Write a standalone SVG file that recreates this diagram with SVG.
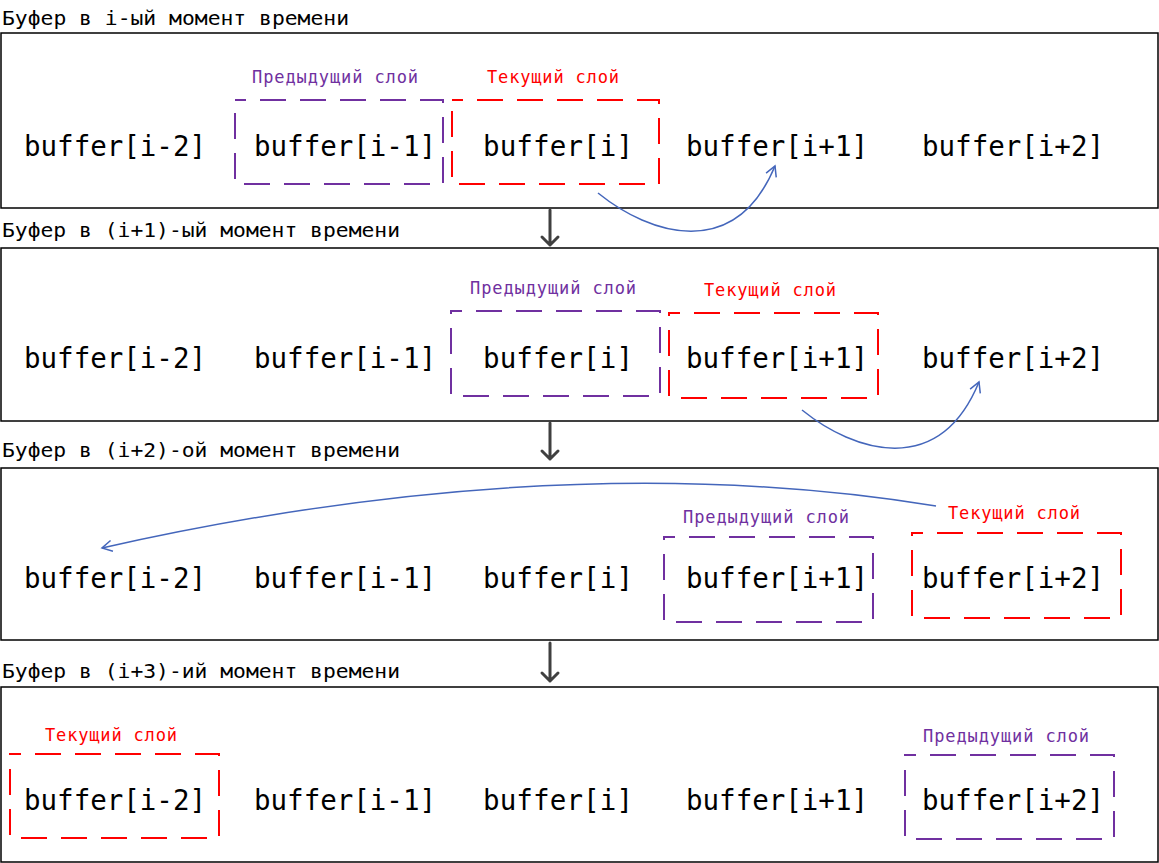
<svg xmlns="http://www.w3.org/2000/svg" width="1159" height="863" viewBox="0 0 1159 863">
<style>
.frame{fill:none;stroke:#000;stroke-width:1.5}
.title{font-family:"DejaVu Sans Mono","Liberation Mono",monospace;font-size:20px;fill:#000}
.buf{font-family:"DejaVu Sans Mono","Liberation Mono",monospace;font-size:27.5px;fill:#000}
.lab{font-family:"DejaVu Sans Mono","Liberation Mono",monospace;font-size:17px}
.prev{fill:none;stroke:#7030A0;stroke-width:2;stroke-dasharray:26 14;stroke-dashoffset:15}
.cur{fill:none;stroke:#FF0000;stroke-width:2;stroke-dasharray:26 14;stroke-dashoffset:15}
.prevt{fill:#7030A0}
.curt{fill:#FF0000}
.flow{fill:none;stroke:#4466BB;stroke-width:1.5;marker-end:url(#open)}
.down{fill:none;stroke:#404040;stroke-width:3;stroke-linecap:round;stroke-linejoin:round}
</style>
<defs>
<marker id="open" viewBox="-12 -7 14 14" refX="0" refY="0" markerWidth="14" markerHeight="14" markerUnits="userSpaceOnUse" orient="auto">
<path d="M-10,-5.5 L0,0 L-10,5.5" fill="none" stroke="#4466BB" stroke-width="1.5"/>
</marker>
</defs>
<rect width="1159" height="863" fill="#fff"/>

<g id="panel1">
<text class="title" x="2" y="25" textLength="347" lengthAdjust="spacingAndGlyphs">Буфер в i-ый момент времени</text>
<rect class="frame" x="1" y="33" width="1157" height="175"/>
<g id="p1-prev"><rect class="prev" x="235" y="100" width="208" height="84"/><text class="lab prevt" x="252" y="83" textLength="166" lengthAdjust="spacing">Предыдущий слой</text></g>
<g id="p1-cur"><rect class="cur" x="452" y="100" width="207" height="84"/><text class="lab curt" x="487" y="83" textLength="132" lengthAdjust="spacing">Текущий слой</text></g>
<g id="p1-n0"><text class="buf" x="24" y="156" textLength="182" lengthAdjust="spacing">buffer[i-2]</text></g>
<g id="p1-n1"><text class="buf" x="254" y="156" textLength="182" lengthAdjust="spacing">buffer[i-1]</text></g>
<g id="p1-n2"><text class="buf" x="483" y="156" textLength="150" lengthAdjust="spacing">buffer[i]</text></g>
<g id="p1-n3"><text class="buf" x="686" y="156" textLength="182" lengthAdjust="spacing">buffer[i+1]</text></g>
<g id="p1-n4"><text class="buf" x="922" y="156" textLength="182" lengthAdjust="spacing">buffer[i+2]</text></g>
</g>

<g id="panel2">
<text class="title" x="2" y="237" textLength="398" lengthAdjust="spacingAndGlyphs">Буфер в (i+1)-ый момент времени</text>
<rect class="frame" x="1" y="248" width="1157" height="173"/>
<g id="p2-prev"><rect class="prev" x="451" y="311" width="209" height="85"/><text class="lab prevt" x="470" y="294" textLength="166" lengthAdjust="spacing">Предыдущий слой</text></g>
<g id="p2-cur"><rect class="cur" x="669" y="313" width="209" height="85"/><text class="lab curt" x="704" y="296" textLength="132" lengthAdjust="spacing">Текущий слой</text></g>
<g id="p2-n0"><text class="buf" x="24" y="368" textLength="182" lengthAdjust="spacing">buffer[i-2]</text></g>
<g id="p2-n1"><text class="buf" x="254" y="368" textLength="182" lengthAdjust="spacing">buffer[i-1]</text></g>
<g id="p2-n2"><text class="buf" x="483" y="368" textLength="150" lengthAdjust="spacing">buffer[i]</text></g>
<g id="p2-n3"><text class="buf" x="686" y="368" textLength="182" lengthAdjust="spacing">buffer[i+1]</text></g>
<g id="p2-n4"><text class="buf" x="922" y="368" textLength="182" lengthAdjust="spacing">buffer[i+2]</text></g>
</g>

<g id="panel3">
<text class="title" x="2" y="457" textLength="398" lengthAdjust="spacingAndGlyphs">Буфер в (i+2)-ой момент времени</text>
<rect class="frame" x="1" y="468" width="1157" height="172"/>
<g id="p3-prev"><rect class="prev" x="664" y="537" width="209" height="85"/><text class="lab prevt" x="683" y="523" textLength="166" lengthAdjust="spacing">Предыдущий слой</text></g>
<g id="p3-cur"><rect class="cur" x="912" y="533" width="209" height="85"/><text class="lab curt" x="948" y="519" textLength="132" lengthAdjust="spacing">Текущий слой</text></g>
<g id="p3-n0"><text class="buf" x="24" y="588" textLength="182" lengthAdjust="spacing">buffer[i-2]</text></g>
<g id="p3-n1"><text class="buf" x="254" y="588" textLength="182" lengthAdjust="spacing">buffer[i-1]</text></g>
<g id="p3-n2"><text class="buf" x="483" y="588" textLength="150" lengthAdjust="spacing">buffer[i]</text></g>
<g id="p3-n3"><text class="buf" x="686" y="588" textLength="182" lengthAdjust="spacing">buffer[i+1]</text></g>
<g id="p3-n4"><text class="buf" x="922" y="588" textLength="182" lengthAdjust="spacing">buffer[i+2]</text></g>
</g>

<g id="panel4">
<text class="title" x="2" y="678" textLength="398" lengthAdjust="spacingAndGlyphs">Буфер в (i+3)-ий момент времени</text>
<rect class="frame" x="1" y="687" width="1157" height="175"/>
<g id="p4-cur"><rect class="cur" x="10" y="754" width="209" height="84"/><text class="lab curt" x="45" y="741" textLength="132" lengthAdjust="spacing">Текущий слой</text></g>
<g id="p4-prev"><rect class="prev" x="905" y="755" width="209" height="84"/><text class="lab prevt" x="923" y="742" textLength="166" lengthAdjust="spacing">Предыдущий слой</text></g>
<g id="p4-n0"><text class="buf" x="24" y="810" textLength="182" lengthAdjust="spacing">buffer[i-2]</text></g>
<g id="p4-n1"><text class="buf" x="254" y="810" textLength="182" lengthAdjust="spacing">buffer[i-1]</text></g>
<g id="p4-n2"><text class="buf" x="483" y="810" textLength="150" lengthAdjust="spacing">buffer[i]</text></g>
<g id="p4-n3"><text class="buf" x="686" y="810" textLength="182" lengthAdjust="spacing">buffer[i+1]</text></g>
<g id="p4-n4"><text class="buf" x="922" y="810" textLength="182" lengthAdjust="spacing">buffer[i+2]</text></g>
</g>

<g id="connectors">
<path class="flow" d="M598,193 C650,235 735,262 775,166"/>
<path class="flow" d="M802,410 C854,452 939,479 979,382"/>
<path class="flow" d="M936,506 Q560,445 102,548"/>
<path class="down" d="M550,210 V245 M542,237 L550,245 L558,237"/>
<path class="down" d="M550,423 V459 M542,451 L550,459 L558,451"/>
<path class="down" d="M550,643 V681 M542,673 L550,681 L558,673"/>
</g>
</svg>
